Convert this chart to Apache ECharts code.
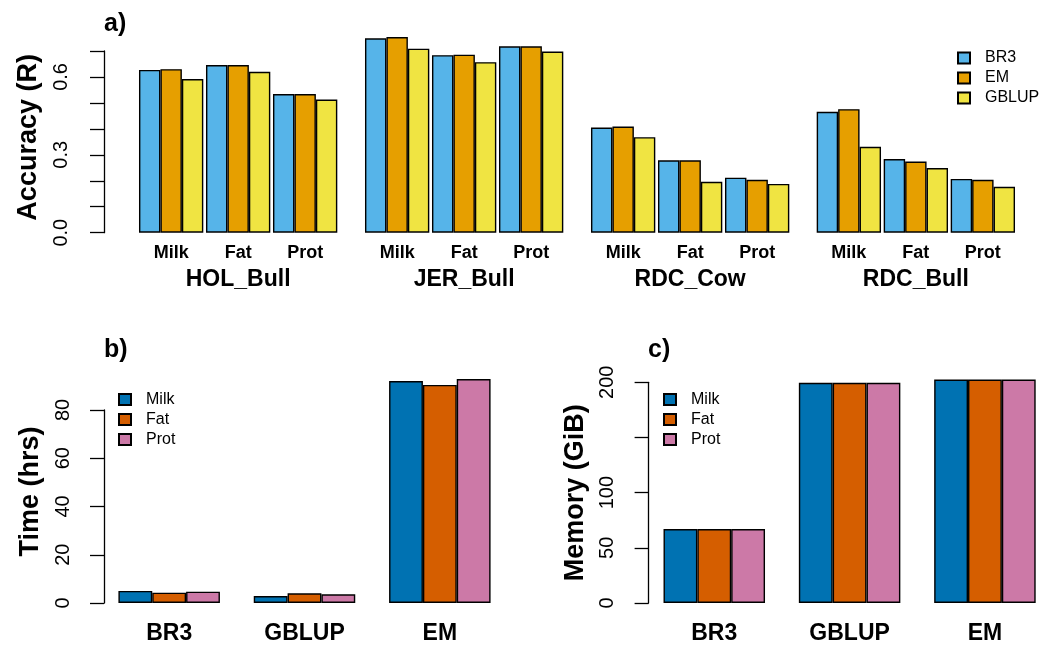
<!DOCTYPE html>
<html><head><meta charset="utf-8">
<script src="https://cdn.jsdelivr.net/npm/echarts@6/dist/echarts.min.js"></script>
<style>html,body{margin:0;padding:0;background:#fff}#c{width:1045px;height:646px}</style>
</head><body><div id="c"></div>
<script>
// ---------- DATA ----------
const datasets = ['HOL_Bull', 'JER_Bull', 'RDC_Cow', 'RDC_Bull'];
const traits = ['Milk', 'Fat', 'Prot'];
const methodsA = ['BR3', 'EM', 'GBLUP'];
// accuracy per dataset (rows) x trait (Milk, Fat, Prot)
const accBR3   = [[0.627, 0.646, 0.534], [0.749, 0.684, 0.718], [0.405, 0.279, 0.212], [0.466, 0.284, 0.207]];
const accEM    = [[0.630, 0.646, 0.534], [0.754, 0.686, 0.718], [0.409, 0.279, 0.204], [0.476, 0.274, 0.204]];
const accGBLUP = [[0.592, 0.620, 0.513], [0.709, 0.657, 0.698], [0.368, 0.196, 0.188], [0.331, 0.249, 0.177]];
const accTickLabels = ['0.0', '0.3', '0.6'];

const methodsB = ['BR3', 'GBLUP', 'EM'];
const timeMilk = [5.0, 2.9, 92.0];
const timeFat  = [4.3, 4.0, 90.4];
const timeProt = [4.7, 3.6, 92.8];
const timeTickLabels = ['0', '20', '40', '60', '80'];

const memMilk = [67, 199.5, 202.5];
const memFat  = [67, 199.5, 202.5];
const memProt = [67, 199.5, 202.5];
const memTickLabels = ['0', '50', '100', '200'];

// ---------- STYLE ----------
const FONT = "'Liberation Sans', Arial, Helvetica, sans-serif";
const colA = {BR3: '#56B4E9', EM: '#E69F00', GBLUP: '#F0E442'};
const colT = {Milk: '#0072B2', Fat: '#D55E00', Prot: '#CC79A7'};
const BORDER = {borderColor: '#000', borderWidth: 1.4};

const grid = [];
const xAxis = [];
const yAxis = [];
const series = [];

// panel a: four grids
const aLefts = [137.65, 363.65, 589.65, 815.35];
const accArrays = {BR3: accBR3, EM: accEM, GBLUP: accGBLUP};
datasets.forEach((ds, i) => {
  grid.push({left: aLefts[i], top: 51, width: 201, height: 181.7, outerBoundsMode: 'none', containLabel: false});
  xAxis.push({
    type: 'category', gridIndex: i, data: traits,
    axisLine: {show: false}, axisTick: {show: false},
    axisLabel: {fontSize: 18, fontWeight: 'bold', color: '#000', fontFamily: FONT, margin: 11, interval: 0},
    name: ds, nameLocation: 'middle', nameGap: 35,
    nameTextStyle: {fontSize: 23, fontWeight: 'bold', color: '#000', fontFamily: FONT}
  });
  const y = {
    type: 'value', gridIndex: i, min: 0, max: 0.7, interval: 0.1,
    splitLine: {show: false}
  };
  if (i === 0) {
    Object.assign(y, {
      offset: aLefts[0] - 104,
      axisLine: {show: true, lineStyle: {color: '#000', width: 1.3}},
      axisTick: {show: true, length: 14, lineStyle: {color: '#000', width: 1.3}},
      axisLabel: {
        rotate: 90, margin: 33, fontSize: 20, color: '#000', fontFamily: FONT,
        formatter: v => { const s = v.toFixed(1); return accTickLabels.includes(s) ? s : ''; }
      },
      name: 'Accuracy (R)', nameLocation: 'middle', nameRotate: 90, nameGap: 62,
      nameTextStyle: {fontSize: 27, fontWeight: 'bold', color: '#000', fontFamily: FONT, padding: [0, 0, 0, 9]}
    });
  } else {
    Object.assign(y, {axisLine: {show: false}, axisTick: {show: false}, axisLabel: {show: false}});
  }
  yAxis.push(y);
  methodsA.forEach(m => {
    series.push({
      type: 'bar', name: m, xAxisIndex: i, yAxisIndex: i,
      data: accArrays[m][i], barGap: '0%', barCategoryGap: '4%', clip: false,
      itemStyle: Object.assign({color: colA[m]}, BORDER), emphasis: {disabled: true}
    });
  });
});

// panels b and c
function addPanel(idx, left, top, height, axisX, max, interval, tickLabels, title, vals, nameShift) {
  grid.push({left: left, top: top, width: 406, height: height, outerBoundsMode: 'none', containLabel: false});
  xAxis.push({
    type: 'category', gridIndex: idx, data: methodsB,
    axisLine: {show: false}, axisTick: {show: false},
    axisLabel: {fontSize: 23, fontWeight: 'bold', color: '#000', fontFamily: FONT, margin: 19, interval: 0}
  });
  yAxis.push({
    type: 'value', gridIndex: idx, min: 0, max: max, interval: interval,
    offset: left - axisX, splitLine: {show: false},
    axisLine: {show: true, lineStyle: {color: '#000', width: 1.3}},
    axisTick: {show: true, length: 14, lineStyle: {color: '#000', width: 1.3}},
    axisLabel: {
      rotate: 90, margin: 31, fontSize: 20, color: '#000', fontFamily: FONT,
      formatter: v => { const s = String(Math.round(v)); return tickLabels.includes(s) ? s : ''; }
    },
    name: title, nameLocation: 'middle', nameRotate: 90, nameGap: 60,
    nameTextStyle: {fontSize: 27, fontWeight: 'bold', color: '#000', fontFamily: FONT, padding: [0, 0, 0, nameShift]}
  });
  traits.forEach((t, k) => {
    series.push({
      type: 'bar', name: t, xAxisIndex: idx, yAxisIndex: idx,
      data: vals[k], barGap: '0%', barCategoryGap: '25%', clip: false,
      itemStyle: Object.assign({color: colT[t]}, BORDER), emphasis: {disabled: true}
    });
  });
}
addPanel(4, 101.5, 410, 193, 104, 80, 20, timeTickLabels, 'Time (hrs)', [timeMilk, timeFat, timeProt], 30);
addPanel(5, 646.6, 382.3, 220.7, 648.6, 200, 50, memTickLabels, 'Memory (GiB)', [memMilk, memFat, memProt], 0);

const legendBase = {
  orient: 'vertical', itemWidth: 12, itemHeight: 11, itemGap: 0, padding: 0, icon: 'rect',
  selectedMode: false,
  textStyle: {fontSize: 16, color: '#000', fontFamily: FONT, lineHeight: 20, padding: [0, 0, 0, 10]}
};

const option = {
  animation: false,
  backgroundColor: '#fff',
  title: [
    {text: 'a)', left: 104, top: 12, padding: 0, textStyle: {fontSize: 25, fontWeight: 'bold', color: '#000', fontFamily: FONT}},
    {text: 'b)', left: 104, top: 338, padding: 0, textStyle: {fontSize: 25, fontWeight: 'bold', color: '#000', fontFamily: FONT}},
    {text: 'c)', left: 648, top: 338, padding: 0, textStyle: {fontSize: 25, fontWeight: 'bold', color: '#000', fontFamily: FONT}}
  ],
  legend: [
    Object.assign({data: methodsA, left: 957, top: 48}, legendBase),
    Object.assign({data: traits, left: 118, top: 389.5}, legendBase),
    Object.assign({data: traits, left: 663, top: 389.5}, legendBase)
  ],
  tooltip: {show: false},
  grid: grid, xAxis: xAxis, yAxis: yAxis, series: series
};

const chart = echarts.init(document.getElementById('c'), null, {renderer: 'canvas'});
chart.setOption(option);
</script>
</body></html>
